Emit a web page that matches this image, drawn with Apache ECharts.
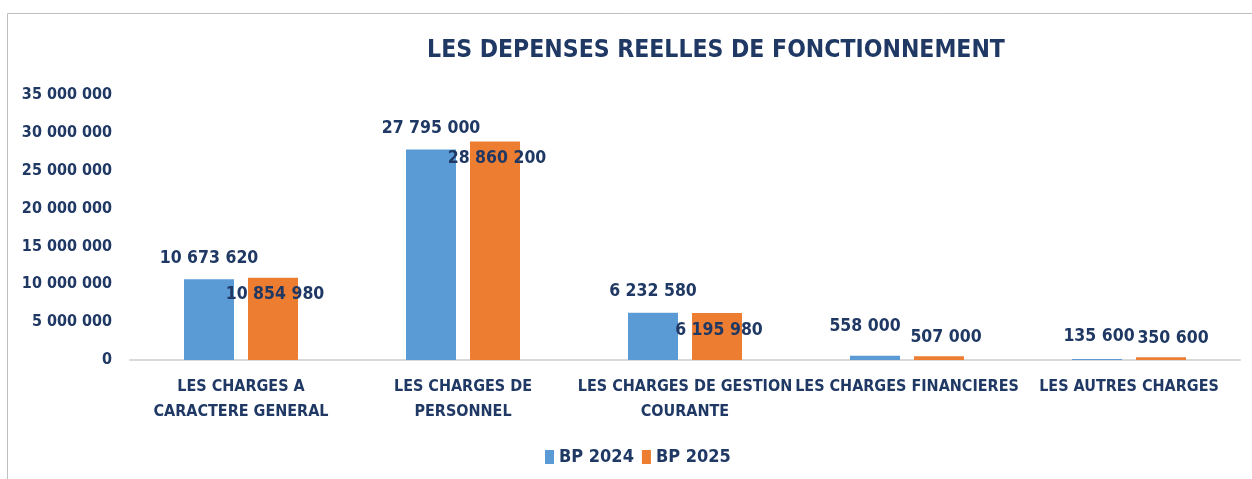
<!DOCTYPE html>
<html><head><meta charset="utf-8">
<script src="https://cdn.jsdelivr.net/npm/echarts@6/dist/echarts.min.js"></script>
<style>html,body{margin:0;padding:0;background:#fff}#c{width:1252px;height:479px}</style>
</head><body><div id="c"></div>
<script>
const title = 'LES DEPENSES REELLES DE FONCTIONNEMENT';
const categories = ['LES CHARGES A\nCARACTERE GENERAL', 'LES CHARGES DE\nPERSONNEL', 'LES CHARGES DE GESTION\nCOURANTE', 'LES CHARGES FINANCIERES', 'LES AUTRES CHARGES'];
const seriesNames = ['BP 2024', 'BP 2025'];
const bp2024 = [10673620, 27795000, 6232580, 558000, 135600];
const bp2025 = [10854980, 28860200, 6195980, 507000, 350600];

const FONT = "'Liberation Sans Narrow','DejaVu Sans Condensed',sans-serif";
const TXT = '#1F3864';
const fmt = v => String(Math.round(v)).replace(/\B(?=(\d{3})+(?!\d))/g, ' ');
const lbl = {show: true, color: TXT, fontFamily: FONT, fontWeight: 'bold', fontSize: 17.5, formatter: p => fmt(p.value)};

const blueDist = [12, 12, 12, 20, 14];
const blueOff = [[0, 0], [0, 0], [0, 0], [-10, 0], [2, 0]];
const orangeOff = [[2, 0], [2, 0], [2, 0], [7, 0], [12, 0]];
const blueData = bp2024.map((v, i) => ({value: v, label: {position: 'top', distance: blueDist[i], offset: blueOff[i]}}));
const orangeData = bp2025.map((v, i) => i < 3
  ? ({value: v, label: {position: 'insideTop', distance: 8, offset: orangeOff[i]}})
  : ({value: v, label: {position: 'top', distance: 10, offset: orangeOff[i]}}));

const chart = echarts.init(document.getElementById('c'));
chart.setOption({
  animation: false,
  backgroundColor: '#fff',
  graphic: [{type: 'rect', shape: {x: 7.5, y: 13.5, width: 1260, height: 470}, style: {fill: 'none', stroke: '#BFBFBF', lineWidth: 1}, silent: true}],
  title: {text: title, left: 711, top: 33, textAlign: 'center', textStyle: {color: TXT, fontFamily: FONT, fontWeight: 'bold', fontSize: 24.5}},
  legend: {bottom: 8, left: 540, itemWidth: 9, itemHeight: 14, itemGap: 8, icon: 'rect',
    textStyle: {color: TXT, fontFamily: FONT, fontWeight: 'bold', fontSize: 18}},
  grid: {left: 130, right: 12, top: 95, bottom: 119},
  xAxis: {type: 'category', data: categories,
    axisLine: {lineStyle: {color: '#D9D9D9', width: 2}}, axisTick: {show: false},
    axisLabel: {color: TXT, fontFamily: FONT, fontWeight: 'bold', fontSize: 16, lineHeight: 25, margin: 14, interval: 0}},
  yAxis: {type: 'value', min: 0, max: 35000000, interval: 5000000,
    splitLine: {show: false}, axisLine: {show: false}, axisTick: {show: false},
    axisLabel: {color: TXT, fontFamily: FONT, fontWeight: 'bold', fontSize: 16, margin: 18, formatter: v => fmt(v)}},
  series: [
    {name: seriesNames[0], type: 'bar', data: blueData, barWidth: 50, barGap: '28%', itemStyle: {color: '#5B9BD5'}, label: lbl},
    {name: seriesNames[1], type: 'bar', data: orangeData, barWidth: 50, itemStyle: {color: '#ED7D31'}, label: lbl}
  ]
});
</script></body></html>
